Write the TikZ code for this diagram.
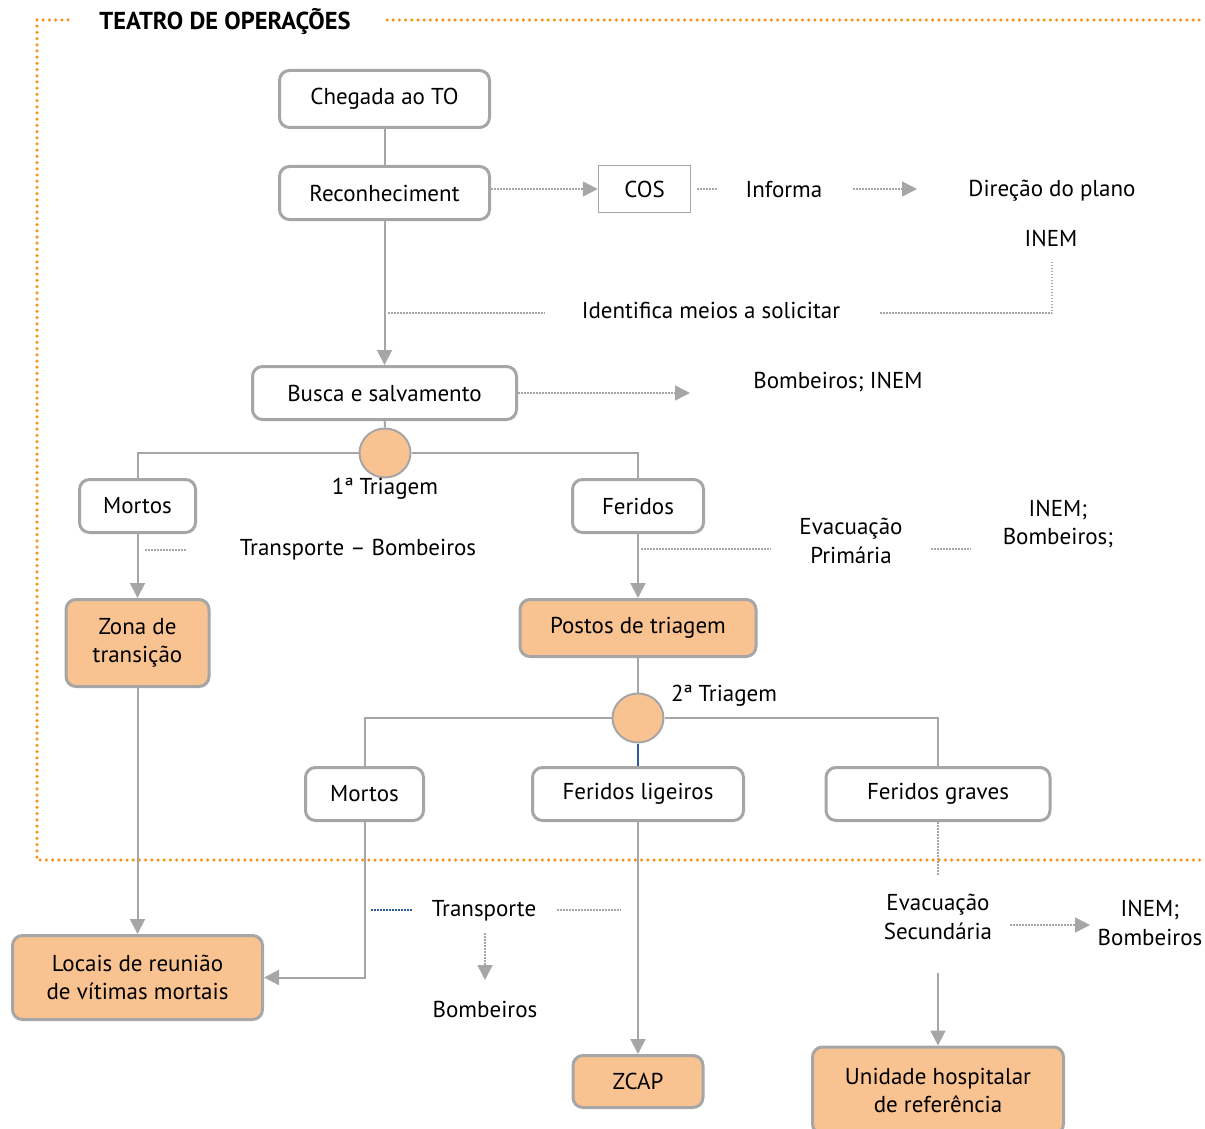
\documentclass[tikz,border=0pt]{standalone}
\usepackage{fontspec}
\setmainfont{PT Sans}
\usetikzlibrary{arrows.meta,shapes.geometric}
\definecolor{lgray}{HTML}{A6A6A6}
\definecolor{peach}{HTML}{F9C391}
\definecolor{frameor}{HTML}{F7941D}
\definecolor{dblue}{HTML}{2E5C9A}

\begin{document}
\begin{tikzpicture}[x=1pt,y=-1pt,
  font=\fontsize{23}{28.5}\selectfont,
  box/.style={draw=lgray, line width=3pt, rounded corners=10pt, fill=white, align=center, inner sep=0pt},
  hot/.style={box, fill=peach},
  lbl/.style={align=center, inner sep=2pt},
  conn/.style={draw=lgray, line width=2pt},
  arr/.style={conn, -{Triangle[length=15pt,width=15pt]}},
  dots/.style={draw=lgray, line width=1.5pt, dash pattern=on 1.5pt off 1.5pt},
  darr/.style={dots, -{Triangle[length=15pt,width=15pt]}},
  bdots/.style={draw=dblue, line width=1.5pt, dash pattern=on 1.5pt off 1.5pt},
  tri/.style={ellipse, draw=lgray, line width=2pt, fill=peach, minimum width=51pt, minimum height=49pt, inner sep=0pt},
  frame/.style={draw=frameor, line width=3.5pt, dash pattern=on 0pt off 6.2pt, line cap=round}]

\useasboundingbox (0,0) rectangle (1205,1129);

% dotted border of the operations theatre
\draw[frame] (68,20) -- (37,20) -- (37,860) -- (1205,860);
\draw[frame] (387,20) -- (1205,20);
\node[font=\bfseries\fontsize{24.5}{28}\selectfont, inner sep=0pt] (title) at (225,22) {TEATRO DE OPERAÇÕES};

% main boxes
\node[box, minimum width=210pt, minimum height=57pt] (cheg) at (384.5,99) {Chegada ao TO};
\node[box, minimum width=210pt, minimum height=53pt] (recon) at (384.5,193) {Reconheciment};
\node[draw=lgray, line width=1.5pt, fill=white, minimum width=92pt, minimum height=47pt, inner sep=0pt] (cos) at (644.5,189) {COS};
\node[box, minimum width=264pt, minimum height=53pt] (busca) at (384.5,393) {Busca e salvamento};
\node[tri] (c1) at (385,453) {};
\node[box, minimum width=116pt, minimum height=53pt] (mort1) at (137.5,506) {Mortos};
\node[box, minimum width=131pt, minimum height=53pt] (ferid) at (638,506) {Feridos};
\node[hot, minimum width=143pt, minimum height=87pt] (zona) at (137.5,643) {Zona de\\transição};
\node[hot, minimum width=236pt, minimum height=57pt] (postos) at (638,628) {Postos de triagem};
\node[tri] (c2) at (638,718) {};
\node[box, minimum width=118pt, minimum height=53pt] (mort2) at (364.5,794) {Mortos};
\node[box, minimum width=211pt, minimum height=53pt] (ferlig) at (638,794) {Feridos ligeiros};
\node[box, minimum width=224pt, minimum height=53pt] (fergrav) at (938,794) {Feridos graves};
\node[hot, minimum width=250pt, minimum height=84pt] (locais) at (137.5,977.5) {Locais de reunião\\de vítimas mortais};
\node[hot, minimum width=130pt, minimum height=52pt] (zcap) at (638,1081.5) {ZCAP};
\node[hot, minimum width=251pt, minimum height=87pt] (unid) at (938,1090.5) {Unidade hospitalar\\de referência};

% free labels
\node[lbl] (informa) at (784,190) {Informa};
\node[lbl] (direcao) at (1052,191) {Direção do plano};
\node[lbl] (inem1) at (1051,238) {INEM};
\node[lbl] (ident) at (711,310) {Identifica meios a solicitar};
\node[lbl] (bombinem) at (838,382) {Bombeiros; INEM};
\node[lbl] (tri1) at (385,489) {1ª Triagem};
\node[lbl] (transb) at (358,550) {Transporte – Bombeiros};
\node[lbl] (evprim) at (851,541) {Evacuação\\Primária};
\node[lbl] (inembomb1) at (1058,524) {INEM;\\Bombeiros;};
\node[lbl] (tri2) at (724,696) {2ª Triagem};
\node[lbl] (transp) at (484,911) {Transporte};
\node[lbl] (bomb2) at (485,1009) {Bombeiros};
\node[lbl] (evsec) at (938,917) {Evacuação\\Secundária};
\node[lbl] (inembomb2) at (1150,923) {INEM;\\Bombeiros};

% free ends of the dotted links
\coordinate (cosA) at (697,189);
\coordinate (cosB) at (717,189);
\coordinate (infA) at (853,189);
\coordinate (infB) at (917,189);
\coordinate (idA) at (388,313);
\coordinate (idB) at (545,313);
\coordinate (idC) at (880,313);
\coordinate (idD) at (1052,313);
\coordinate (idE) at (1052,262);
\coordinate (buscaB) at (690,393);
\coordinate (tbA) at (145,550);
\coordinate (tbB) at (186,550);
\coordinate (epA) at (641,549);
\coordinate (epB) at (771,549);
\coordinate (epC) at (931,549);
\coordinate (epD) at (971,549);
\coordinate (trA) at (371,910);
\coordinate (trB) at (412,910);
\coordinate (trC) at (557,910);
\coordinate (trD) at (621,910);
\coordinate (trE) at (485,933);
\coordinate (trF) at (485,980);
\coordinate (fgA) at (938,875);
\coordinate (esA) at (1010,925);
\coordinate (esB) at (1090,925);
\coordinate (esC) at (938,973);

% solid flow
\draw[conn] (cheg) -- (recon);
\draw[arr] (recon) -- (busca);
\draw[conn] (busca) -- (c1);
\draw[conn] (c1.west) -| (mort1.north);
\draw[conn] (c1.east) -| (ferid.north);
\draw[arr] (mort1) -- (zona);
\draw[arr] (ferid) -- (postos);
\draw[conn] (postos) -- (c2);
\draw[conn] (c2.west) -| (mort2.north);
\draw[conn] (c2.east) -| (fergrav.north);
\draw[draw=dblue, line width=1.5pt] (c2) -- (ferlig);
\draw[arr] (zona) -- (locais);
\draw[arr] (mort2.south) |- (locais.east);
\draw[arr] (ferlig) -- (zcap);
\draw[arr] (esC) -- (unid);

% dotted information links
\draw[darr] (recon.east |- cos.west) -- (cos.west);
\draw[dots] (cosA) -- (cosB);
\draw[darr] (infA) -- (infB);
\draw[dots] (idA) -- (idB);
\draw[dots] (idC) -- (idD) -- (idE);
\draw[darr] (busca.east) -- (buscaB);
\draw[dots] (tbA) -- (tbB);
\draw[dots] (epA) -- (epB);
\draw[dots] (epC) -- (epD);
\draw[bdots] (trA) -- (trB);
\draw[dots] (trC) -- (trD);
\draw[darr] (trE) -- (trF);
\draw[dots] (fergrav.south) -- (fgA);
\draw[darr] (esA) -- (esB);
\end{tikzpicture}
\end{document}
